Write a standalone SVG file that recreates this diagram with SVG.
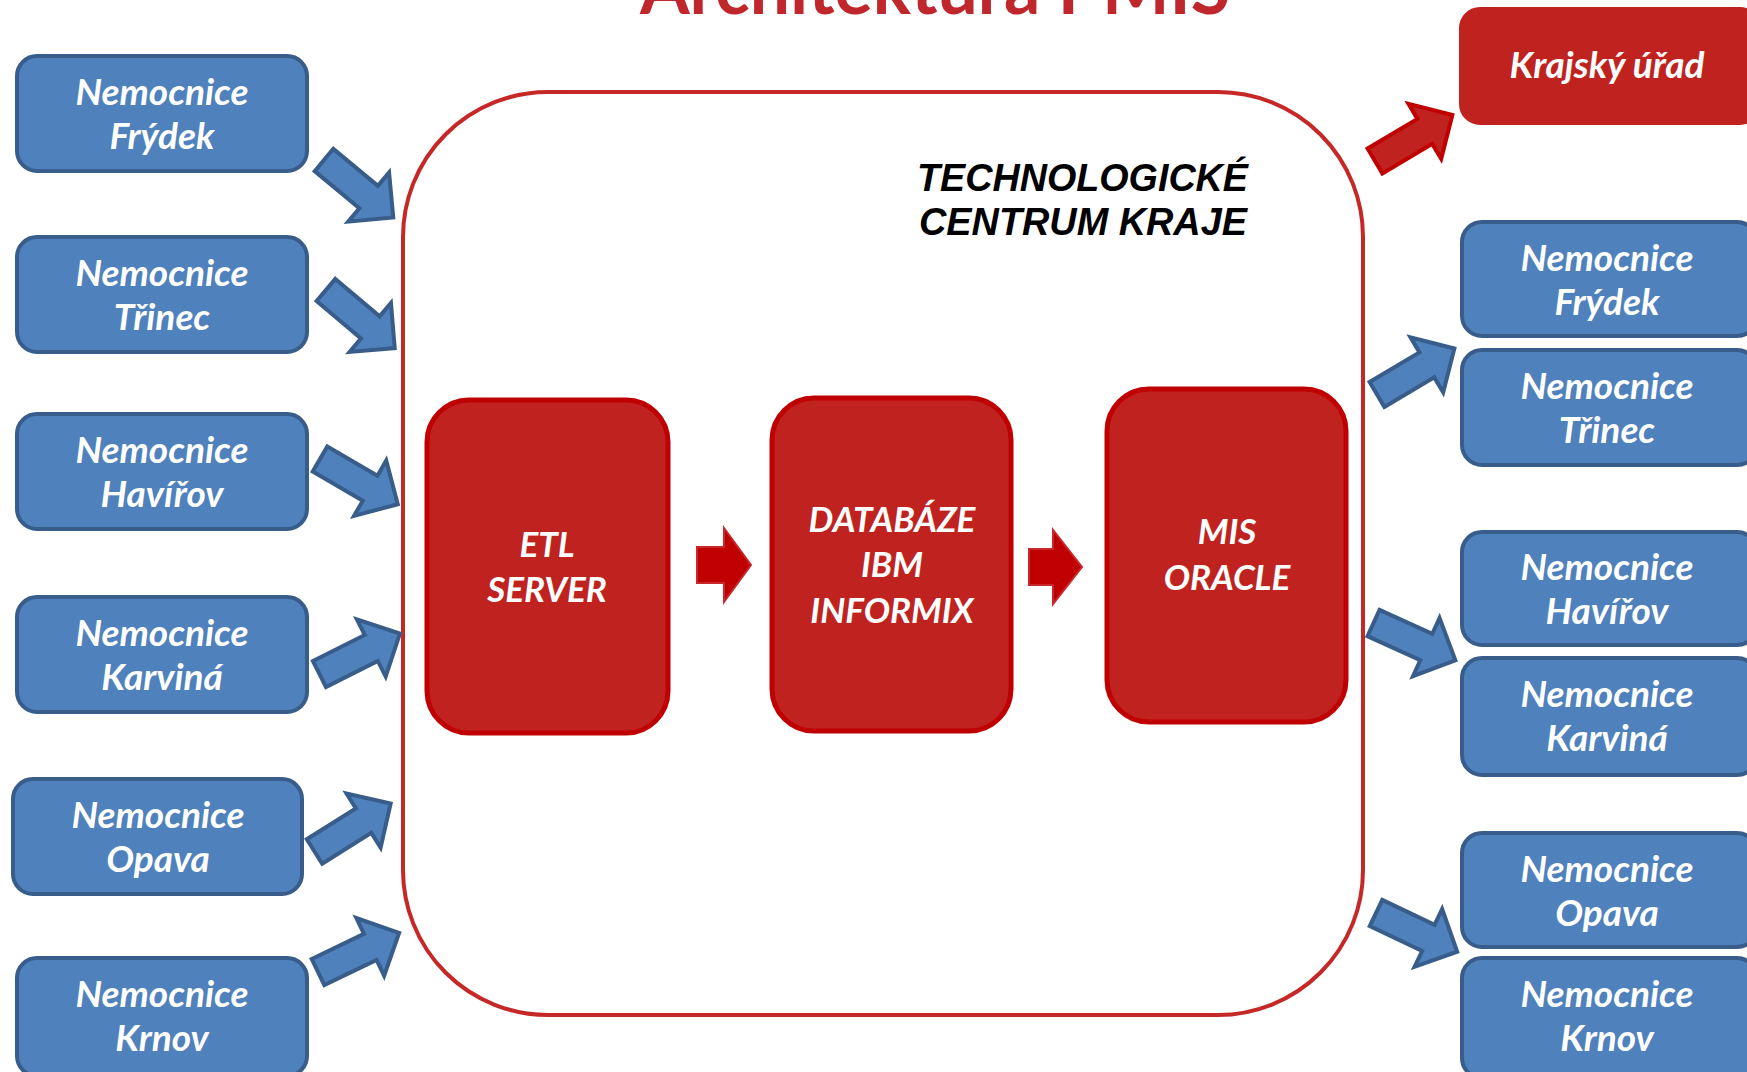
<svg xmlns="http://www.w3.org/2000/svg" xmlns:xlink="http://www.w3.org/1999/xlink" width="1747" height="1072" viewBox="0 0 1747 1072">
<style>
.bg{fill:#ffffff}
.blue{fill:#4F81BD;stroke:#385D8A;stroke-width:4}
.redbox{fill:#C0231F;stroke:#C00000;stroke-width:5}
.krbox{fill:#C0231F;stroke:#C0231F;stroke-width:2}
.cont{fill:none;stroke:#C62828;stroke-width:4}
.ntext{font-family:Lato,"Liberation Sans",sans-serif;font-weight:bold;font-style:italic;font-size:37px;fill:#ffffff;text-anchor:middle}
.ctext{font-family:Lato,"Liberation Sans",sans-serif;font-weight:bold;font-style:italic;font-size:35px;fill:#ffffff;text-anchor:middle}
.title{font-family:Lato,"Liberation Sans",sans-serif;font-weight:bold;font-size:72px;fill:#C0272D;text-anchor:middle}
.tck{font-family:"Liberation Sans",Arial,sans-serif;font-weight:bold;font-style:italic;font-size:38px;fill:#000000}
.barrow{fill:#4F81BD;stroke:#385D8A;stroke-width:4;stroke-linejoin:miter}
.rarrow{fill:#C0231F;stroke:#C00000;stroke-width:4;stroke-linejoin:miter}
.smallarrow{fill:#C00000;stroke:#C8282A;stroke-width:2}
</style>
<defs>
<path id="blk" d="M0,-14.5 H58 V-32 L90,0 L58,32 V14.5 H0 Z"/>
</defs>
<rect class="bg" x="0" y="0" width="1747" height="1072"/>

<text class="title" x="935" y="14" textLength="590" lengthAdjust="spacingAndGlyphs">Architektura PMIS</text>

<g id="container">
<rect class="cont" x="403" y="92" width="960" height="923" rx="145" ry="145"/>
<text class="tck" x="917" y="191" textLength="331" lengthAdjust="spacingAndGlyphs">TECHNOLOGICKÉ</text>
<text class="tck" x="919" y="235" textLength="328" lengthAdjust="spacingAndGlyphs">CENTRUM KRAJE</text>
</g>

<g id="left-frydek"><rect class="blue" x="17" y="56" width="290" height="115" rx="20"/><text class="ntext" x="162" y="105">Nemocnice</text><text class="ntext" x="162" y="149">Frýdek</text></g>
<g id="left-trinec"><rect class="blue" x="17" y="237" width="290" height="115" rx="20"/><text class="ntext" x="162" y="286">Nemocnice</text><text class="ntext" x="162" y="330">Třinec</text></g>
<g id="left-havirov"><rect class="blue" x="17" y="414" width="290" height="115" rx="20"/><text class="ntext" x="162" y="463">Nemocnice</text><text class="ntext" x="162" y="507">Havířov</text></g>
<g id="left-karvina"><rect class="blue" x="17" y="597" width="290" height="115" rx="20"/><text class="ntext" x="162" y="646">Nemocnice</text><text class="ntext" x="162" y="690">Karviná</text></g>
<g id="left-opava"><rect class="blue" x="13" y="779" width="289" height="115" rx="20"/><text class="ntext" x="158" y="828">Nemocnice</text><text class="ntext" x="158" y="872">Opava</text></g>
<g id="left-krnov"><rect class="blue" x="17" y="958" width="290" height="118" rx="20"/><text class="ntext" x="162" y="1007">Nemocnice</text><text class="ntext" x="162" y="1051">Krnov</text></g>

<g id="etl"><rect class="redbox" x="427" y="400" width="241" height="333" rx="42"/><text class="ctext" x="547" y="557">ETL</text><text class="ctext" x="547" y="602">SERVER</text></g>
<g id="db"><rect class="redbox" x="772" y="398" width="239" height="333" rx="42"/><text class="ctext" x="892" y="532">DATABÁZE</text><text class="ctext" x="892" y="577">IBM</text><text class="ctext" x="892" y="623">INFORMIX</text></g>
<g id="mis"><rect class="redbox" x="1107" y="389" width="239" height="333" rx="42"/><text class="ctext" x="1227" y="544">MIS</text><text class="ctext" x="1227" y="590">ORACLE</text></g>

<g id="krajsky"><rect class="krbox" x="1460" y="8" width="300" height="116" rx="20"/><text class="ntext" x="1607" y="78">Krajský úřad</text></g>
<g id="right-frydek"><rect class="blue" x="1462" y="222" width="295" height="114" rx="20"/><text class="ntext" x="1607" y="271">Nemocnice</text><text class="ntext" x="1607" y="315">Frýdek</text></g>
<g id="right-trinec"><rect class="blue" x="1462" y="350" width="295" height="115" rx="20"/><text class="ntext" x="1607" y="399">Nemocnice</text><text class="ntext" x="1607" y="443">Třinec</text></g>
<g id="right-havirov"><rect class="blue" x="1462" y="532" width="295" height="113" rx="20"/><text class="ntext" x="1607" y="580">Nemocnice</text><text class="ntext" x="1607" y="624">Havířov</text></g>
<g id="right-karvina"><rect class="blue" x="1462" y="658" width="295" height="117" rx="20"/><text class="ntext" x="1607" y="707">Nemocnice</text><text class="ntext" x="1607" y="751">Karviná</text></g>
<g id="right-opava"><rect class="blue" x="1462" y="833" width="295" height="114" rx="20"/><text class="ntext" x="1607" y="882">Nemocnice</text><text class="ntext" x="1607" y="926">Opava</text></g>
<g id="right-krnov"><rect class="blue" x="1462" y="958" width="295" height="120" rx="20"/><text class="ntext" x="1607" y="1007">Nemocnice</text><text class="ntext" x="1607" y="1051">Krnov</text></g>

<g id="connectors">
<use xlink:href="#blk" href="#blk" class="barrow" transform="translate(324,160) rotate(39.7)"/>
<use xlink:href="#blk" href="#blk" class="barrow" transform="translate(326,290) rotate(40.2)"/>
<use xlink:href="#blk" href="#blk" class="barrow" transform="translate(320,459) rotate(30.2)"/>
<use xlink:href="#blk" href="#blk" class="barrow" transform="translate(319.5,674) rotate(-26.7)"/>
<use xlink:href="#blk" href="#blk" class="barrow" transform="translate(314.5,851.5) rotate(-32.2)"/>
<use xlink:href="#blk" href="#blk" class="barrow" transform="translate(318,972) rotate(-25.7)"/>
<use xlink:href="#blk" href="#blk" class="rarrow" transform="translate(1375,161) rotate(-30.7)"/>
<use xlink:href="#blk" href="#blk" class="barrow" transform="translate(1377,394.5) rotate(-30.7)"/>
<use xlink:href="#blk" href="#blk" class="barrow" transform="translate(1373.5,623) rotate(24.5)"/>
<use xlink:href="#blk" href="#blk" class="barrow" transform="translate(1376,913) rotate(25.5)"/>
<path class="smallarrow" d="M697,547 H724 V528 L751,565 L724,602 V583 H697 Z"/>
<path class="smallarrow" d="M1029,549 H1053 V530 L1082,567 L1053,604 V585 H1029 Z"/>
</g>
</svg>
